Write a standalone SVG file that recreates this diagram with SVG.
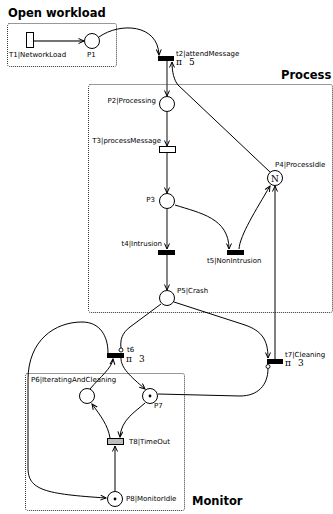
<svg xmlns="http://www.w3.org/2000/svg" width="333" height="514" viewBox="0 0 333 514">
  <style>
    .title { font-family: "DejaVu Sans", "Liberation Sans", sans-serif; font-weight: bold; font-size: 11.5px; fill: #000; }
    .lbl { font-family: "DejaVu Sans", "Liberation Sans", sans-serif; font-size: 7px; fill: #000; }
    .pi { font-family: "DejaVu Serif", "Liberation Serif", serif; font-size: 9px; fill: #000; }
    .box { fill: none; stroke: #333; stroke-width: 1; stroke-dasharray: 1 1; }
    .place { fill: #fff; stroke: #000; stroke-width: 1; }
    .bar { fill: #000; stroke: none; }
    .trans { fill: #fff; stroke: #000; stroke-width: 1; }
    .timed { fill: #bdbdbd; stroke: #000; stroke-width: 1; }
    .arc { fill: none; stroke: #000; stroke-width: 1; marker-end: url(#arrow); }
    .straight { fill: none; stroke: #444; stroke-width: 1.3; marker-end: url(#arrow); }
    .inh { fill: none; stroke: #000; stroke-width: 1; }
    .inhdot { fill: #fff; stroke: #000; stroke-width: 0.9; }
  </style>
  <defs>
    <marker id="arrow" markerUnits="userSpaceOnUse" markerWidth="8" markerHeight="8" refX="6" refY="3" orient="auto">
      <path d="M0.5,0.5 L6,3 L0.5,5.5" fill="none" stroke="#000" stroke-width="1"/>
    </marker>
  </defs>

  <!-- module frames -->
  <g id="frames">
    <text class="title" x="8" y="17">Open workload</text>
    <rect class="box" x="7.5" y="23.5" width="109" height="43" rx="2"/>
    <text class="title" x="281" y="79">Process</text>
    <rect class="box" x="88.5" y="84.5" width="244" height="228" rx="2"/>
    <text class="title" x="192" y="505">Monitor</text>
    <rect class="box" x="25.5" y="373.5" width="159" height="137" rx="2"/>
  </g>

  <!-- connectors -->
  <g id="connectors">
    <path class="straight" d="M34,41 L84,41"/>
    <path class="arc" d="M99,37 C120,22 158,24 159,55"/>
    <path class="straight" d="M167,61 L167,96"/>
    <path class="arc" d="M270,172 L178,85 C174,80 172,72 172,62"/>
    <path class="straight" d="M167,112 L167,146"/>
    <path class="straight" d="M167,153 L167,193"/>
    <path class="straight" d="M167,209 L167,249"/>
    <path class="arc" d="M175,205 C200,213 229,218 229,249"/>
    <path class="arc" d="M239,249 C240,235 256,210 270,186"/>
    <path class="straight" d="M167,255 L167,290"/>
    <path class="arc" d="M275,359 L275,186"/>
    <path class="arc" d="M174,302 L245,325 C262,331 268,340 268,358"/>
    <path class="inh" d="M161,304 L130,327 C122,333 120,340 121,348"/>
    <path class="arc" d="M121,358 C121,368 130,376 145,389"/>
    <path class="arc" d="M90,389 C100,377 112,368 113,359"/>
    <path class="inh" d="M158,394 L240,396 C258,396 268,385 268,368.5"/>
    <path class="arc" d="M108,353 C108,336 100,322 82,322 C55,322 28,340 28,380 L28,468 C28,490 45,494 106,498"/>
    <path class="arc" d="M110,438 C108,425 100,415 92,404"/>
    <path class="arc" d="M145,403 C135,412 121,420 120,437"/>
    <path class="arc" d="M115,491 L115,446"/>
  </g>

  <g id="T1">
    <rect class="trans" x="26.5" y="32.5" width="7" height="15"/>
    <text class="lbl" x="9" y="57">T1|NetworkLoad</text>
  </g>
  <g id="P1">
    <circle class="place" cx="92" cy="41" r="7.5"/>
    <text class="lbl" x="87" y="57">P1</text>
  </g>
  <g id="t2">
    <rect class="bar" x="158" y="56" width="16" height="5"/>
    <text class="lbl" x="176" y="56">t2|attendMessage</text>
    <text class="pi" x="176" y="65">π</text>
    <text class="pi" x="189" y="65">5</text>
  </g>
  <g id="P2">
    <circle class="place" cx="167" cy="104" r="7.5"/>
    <text class="lbl" x="156" y="103" text-anchor="end">P2|Processing</text>
  </g>
  <g id="T3">
    <rect class="trans" x="159.5" y="146.5" width="16" height="6"/>
    <text class="lbl" x="161" y="143" text-anchor="end">T3|processMessage</text>
  </g>
  <g id="P3">
    <circle class="place" cx="167" cy="201" r="7.5"/>
    <text class="lbl" x="155" y="202" text-anchor="end">P3</text>
  </g>
  <g id="t4">
    <rect class="bar" x="158" y="250" width="17" height="5"/>
    <text class="lbl" x="162" y="246" text-anchor="end">t4|Intrusion</text>
  </g>
  <g id="t5">
    <rect class="bar" x="227" y="250" width="17" height="5"/>
    <text class="lbl" x="207" y="263">t5|NonIntrusion</text>
  </g>
  <g id="P4">
    <circle class="place" cx="275" cy="178" r="7.5"/>
    <text class="pi" x="275" y="181.5" text-anchor="middle">N</text>
    <text class="lbl" x="275" y="167">P4|ProcessIdle</text>
  </g>
  <g id="P5">
    <circle class="place" cx="167" cy="298" r="7.5"/>
    <text class="lbl" x="177" y="293">P5|Crash</text>
  </g>
  <g id="t6">
    <rect class="bar" x="107" y="353" width="17" height="5"/>
    <circle class="inhdot" cx="121" cy="350" r="2"/>
    <text class="lbl" x="127" y="352">t6</text>
    <text class="pi" x="126" y="362">π</text>
    <text class="pi" x="139" y="362">3</text>
  </g>
  <g id="t7">
    <rect class="bar" x="267" y="359" width="16" height="5"/>
    <circle class="inhdot" cx="268" cy="366.5" r="2"/>
    <text class="lbl" x="285" y="357">t7|Cleaning</text>
    <text class="pi" x="285" y="366">π</text>
    <text class="pi" x="298" y="366">3</text>
  </g>
  <g id="P6">
    <circle class="place" cx="87" cy="396" r="7.5"/>
    <text class="lbl" x="31" y="382">P6|IteratingAndCleaning</text>
  </g>
  <g id="P7">
    <circle class="place" cx="150" cy="396" r="7.5"/>
    <circle cx="150" cy="396" r="1.4" fill="#000"/>
    <text class="lbl" x="154" y="408">P7</text>
  </g>
  <g id="T8">
    <rect class="timed" x="107.5" y="438.5" width="16" height="6"/>
    <text class="lbl" x="129" y="444">T8|TimeOut</text>
  </g>
  <g id="P8">
    <circle class="place" cx="115" cy="499" r="7.5"/>
    <circle cx="115" cy="499" r="1.4" fill="#000"/>
    <text class="lbl" x="126" y="501">P8|MonitorIdle</text>
  </g>
</svg>
